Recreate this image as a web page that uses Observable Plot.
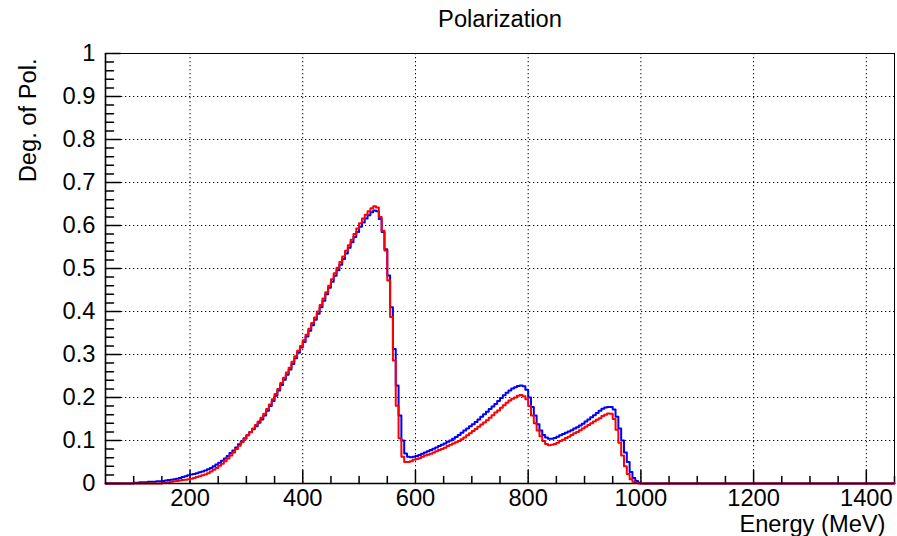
<!DOCTYPE html>
<html><head><meta charset="utf-8">
<script src="https://cdn.jsdelivr.net/npm/d3@7"></script>
<script src="https://cdn.jsdelivr.net/npm/@observablehq/plot@0.6"></script>
<style>html,body{margin:0;padding:0;background:#fff;} svg{display:block}</style>
</head><body><div id="chart"></div>
<script>
// ---- data (bin lower edges: 100, 105, ..., 995 MeV; 5 MeV bins) ----
const energyStart = 100;
const binWidth = 5;
const blueDeg = [
  0.002,0.002,0.003,0.003,0.003,0.004,0.004,0.004,0.005,0.005, // 100-145
  0.006,0.007,0.008,0.009,0.010,0.011,0.013,0.015,0.017,0.019, // 150-195
  0.021,0.022,0.024,0.026,0.028,0.030,0.033,0.036,0.040,0.044, // 200-245
  0.048,0.053,0.058,0.064,0.071,0.077,0.084,0.091,0.098,0.105, // 250-295
  0.112,0.119,0.126,0.133,0.141,0.149,0.158,0.169,0.180,0.192, // 300-345
  0.204,0.216,0.229,0.241,0.253,0.265,0.278,0.291,0.304,0.316, // 350-395
  0.329,0.342,0.355,0.368,0.381,0.395,0.410,0.425,0.440,0.455, // 400-445
  0.469,0.483,0.496,0.509,0.522,0.535,0.548,0.561,0.573,0.585, // 450-495
  0.597,0.607,0.616,0.624,0.631,0.635,0.633,0.615,0.585,0.545, // 500-545
  0.484,0.410,0.313,0.228,0.158,0.100,0.070,0.062,0.061,0.062, // 550-595
  0.064,0.066,0.069,0.072,0.075,0.078,0.081,0.084,0.087,0.090, // 600-645
  0.093,0.097,0.100,0.104,0.108,0.113,0.118,0.123,0.128,0.133, // 650-695
  0.138,0.143,0.149,0.155,0.161,0.167,0.173,0.179,0.185,0.192, // 700-745
  0.199,0.205,0.211,0.216,0.221,0.224,0.227,0.228,0.226,0.218, // 750-795
  0.200,0.178,0.158,0.138,0.123,0.113,0.107,0.104,0.104,0.106, // 800-845
  0.109,0.112,0.115,0.118,0.121,0.124,0.128,0.131,0.135,0.139, // 850-895
  0.144,0.149,0.154,0.159,0.164,0.169,0.174,0.177,0.178,0.178, // 900-945
  0.172,0.155,0.128,0.100,0.072,0.050,0.027,0.013,0.006,0.002  // 950-995
];
const redDeg = [
  0,0,0,0,0,0,0,0,0,0,                                         // 100-145
  0.001,0.002,0.003,0.004,0.005,0.006,0.007,0.008,0.009,0.010, // 150-195
  0.011,0.013,0.015,0.017,0.019,0.021,0.024,0.028,0.032,0.036, // 200-245
  0.041,0.046,0.052,0.058,0.065,0.072,0.080,0.088,0.096,0.104, // 250-295
  0.112,0.120,0.128,0.136,0.144,0.153,0.162,0.173,0.184,0.196, // 300-345
  0.208,0.220,0.234,0.246,0.258,0.269,0.283,0.296,0.309,0.320, // 350-395
  0.333,0.346,0.360,0.373,0.386,0.400,0.415,0.430,0.445,0.460, // 400-445
  0.475,0.489,0.502,0.515,0.528,0.541,0.554,0.567,0.580,0.593, // 450-495
  0.605,0.616,0.625,0.633,0.640,0.645,0.642,0.620,0.588,0.542, // 500-545
  0.472,0.387,0.286,0.181,0.105,0.062,0.050,0.050,0.052,0.055, // 550-595
  0.057,0.059,0.062,0.065,0.067,0.069,0.072,0.075,0.078,0.080, // 600-645
  0.083,0.087,0.090,0.093,0.096,0.099,0.103,0.107,0.112,0.117, // 650-695
  0.122,0.127,0.132,0.137,0.142,0.147,0.153,0.159,0.165,0.170, // 700-745
  0.176,0.182,0.188,0.193,0.197,0.200,0.204,0.206,0.203,0.196, // 750-795
  0.180,0.158,0.140,0.123,0.110,0.099,0.092,0.089,0.090,0.092, // 800-845
  0.095,0.099,0.102,0.106,0.109,0.113,0.117,0.120,0.124,0.128, // 850-895
  0.132,0.136,0.140,0.144,0.148,0.152,0.157,0.160,0.163,0.162, // 900-945
  0.150,0.125,0.095,0.065,0.040,0.022,0.010,0.004,0.001,0      // 950-995
];
const xDomain = [50, 1450];
const yDomain = [0, 1];
const xMajorTicks = [200, 400, 600, 800, 1000, 1200, 1400];
const xTickLabels = ["200", "400", "600", "800", "1000", "1200", "1400"];
const yMajorTicks = [0, 0.1, 0.2, 0.3, 0.4, 0.5, 0.6, 0.7, 0.8, 0.9, 1];
const yTickLabels = ["0", "0.1", "0.2", "0.3", "0.4", "0.5", "0.6", "0.7", "0.8", "0.9", "1"];
const yGridTicks = [0.1, 0.2, 0.3, 0.4, 0.5, 0.6, 0.7, 0.8, 0.9];
const titleText = "Polarization";
const xLabel = "Energy (MeV)";
const yLabel = "Deg. of Pol.";

// ---- build step histograms (zero bins outside the filled range) ----
function toSteps(values) {
  const rows = [];
  for (let e = xDomain[0]; e < energyStart; e += binWidth) rows.push({e, v: 0});
  values.forEach((v, i) => rows.push({e: energyStart + i * binWidth, v}));
  for (let e = energyStart + values.length * binWidth; e < xDomain[1]; e += binWidth) rows.push({e, v: 0});
  rows.push({e: xDomain[1], v: 0});
  return rows;
}
const blueSteps = toSteps(blueDeg);
const redSteps = toSteps(redDeg);

const xMinorTicks = d3.range(100, 1451, 50).filter(d => d % 200 !== 0);
const yMinorTicks = d3.range(1, 50).map(i => i / 50).filter((d, i) => (i + 1) % 5 !== 0);

const tickShape = {draw(context, l) { context.moveTo(0, 0); context.lineTo(0, -l); }};
const FONT = 23;
const textStretch = 1.03;
const gridStyle = {stroke: "#000", strokeOpacity: 1, strokeWidth: 1, strokeDasharray: "1.3,2.7"};

const plot = Plot.plot({
  width: 897,
  height: 536,
  marginLeft: 105,
  marginRight: 3,
  marginTop: 53,
  marginBottom: 53,
  style: {fontFamily: "'Liberation Sans', Arial, sans-serif", fontSize: FONT + "px", color: "#000", background: "#fff"},
  x: {domain: xDomain},
  y: {domain: yDomain},
  marks: [
    Plot.gridX(xMajorTicks, gridStyle),
    Plot.gridY(yGridTicks, gridStyle),
    Plot.frame({stroke: "#000", strokeWidth: 1}),
    Plot.vectorX(xMajorTicks, {x: d => d, frameAnchor: "bottom", length: 13, anchor: "start", shape: tickShape, stroke: "#000", strokeWidth: 1.5}),
    Plot.vectorX(xMinorTicks, {x: d => d, frameAnchor: "bottom", length: 7, anchor: "start", shape: tickShape, stroke: "#000", strokeWidth: 1.5}),
    Plot.vectorY(yMajorTicks, {y: d => d, frameAnchor: "left", rotate: 90, length: 15, anchor: "start", shape: tickShape, stroke: "#000", strokeWidth: 1.5}),
    Plot.vectorY(yMinorTicks, {y: d => d, frameAnchor: "left", rotate: 90, length: 8, anchor: "start", shape: tickShape, stroke: "#000", strokeWidth: 1.5}),
    Plot.line(blueSteps, {x: "e", y: "v", curve: "step-after", stroke: "#0000ff", strokeWidth: 2}),
    Plot.line(redSteps, {x: "e", y: "v", curve: "step-after", stroke: "#ff0000", strokeWidth: 2}),
    Plot.ruleY([yDomain[0]], {stroke: "#000", strokeWidth: 1.6}),
    Plot.ruleX([xDomain[0]], {stroke: "#000", strokeWidth: 1.6}),
    Plot.axisX(xMajorTicks, {tickSize: 0, tickPadding: 6, label: null, fontSize: FONT,
      tickFormat: d => xTickLabels[xMajorTicks.indexOf(d)]}),
    Plot.axisY(yMajorTicks, {tickSize: 0, tickPadding: 10, label: null, fontSize: FONT,
      tickFormat: d => yTickLabels[yMajorTicks.indexOf(d)]}),
    Plot.text([titleText], {frameAnchor: "top", lineAnchor: "bottom", dy: -27, fontSize: FONT}),
    Plot.text([xLabel], {frameAnchor: "bottom-right", textAnchor: "end", lineAnchor: "bottom", dx: -9, dy: 48, fontSize: FONT}),
    Plot.text([yLabel], {frameAnchor: "top-left", rotate: -90, textAnchor: "end", lineAnchor: "bottom", dx: -70, dy: 5, fontSize: FONT})
  ]
});
document.getElementById("chart").append(plot);
plot.querySelectorAll("text").forEach(t => {
  const targets = t.querySelectorAll("tspan").length ? t.querySelectorAll("tspan") : [t];
  targets.forEach(el => {
    const L = el.getComputedTextLength();
    if (L > 0) {
      el.setAttribute("textLength", (L * textStretch).toFixed(2));
      el.setAttribute("lengthAdjust", "spacingAndGlyphs");
    }
  });
});
</script>
</body></html>
